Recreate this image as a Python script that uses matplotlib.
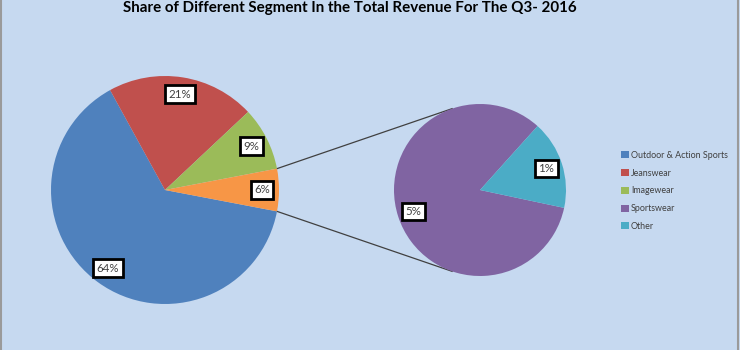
import numpy as np
import matplotlib
matplotlib.use("Agg")
import matplotlib.pyplot as plt
from matplotlib.lines import Line2D

# Revenue share by segment, Q3 2016
main_labels = ["Outdoor & Action Sports", "Jeanswear", "Imagewear"]
main_values = [64, 21, 9]
detail_labels = ["Sportswear", "Other"]
detail_values = [5, 1]

main_colors = ["#4F81BD", "#C0504D", "#9BBB59"]
combined_color = "#F79646"
detail_colors = ["#8064A2", "#4BACC6"]

title = "Share of Different Segment In the Total Revenue For The Q3- 2016"

W, H = 740, 350
fig = plt.figure(figsize=(W / 100, H / 100), dpi=100)
fig.patch.set_facecolor("#C6D9F0")
ax = fig.add_axes([0, 0, 1, 1])

font = "Lato"
box = dict(boxstyle="square,pad=0.3", fc="white", ec="black", lw=2)
txt = dict(fontsize=8.3, color="#404040", family=font)

# primary pie: main segments plus the combined remainder
combined = sum(detail_values)
primary = main_values + [combined]
total = sum(primary)
frac_comb = combined / total
c1, r1 = (165, 160), 114
half = 180 * frac_comb
w1, _ = ax.pie(primary, colors=main_colors + [combined_color], startangle=-half,
               counterclock=False, center=c1, radius=r1, frame=True,
               wedgeprops=dict(linewidth=0))
ang = -half
for v, w in zip(primary, w1):
    mid = np.deg2rad(ang - v / total * 180)
    ang -= v / total * 360
    x = c1[0] + 0.85 * r1 * np.cos(mid)
    y = c1[1] + 0.85 * r1 * np.sin(mid)
    ax.text(x, y, f"{v}%", ha="center", va="center", bbox=box, **txt)

# secondary pie breaking down the combined slice
c2, r2 = (480, 160), 86
dtotal = sum(detail_values)
start2 = -12
w2, _ = ax.pie(detail_values, colors=detail_colors, startangle=start2,
               counterclock=False, center=c2, radius=r2, frame=True,
               wedgeprops=dict(linewidth=0))
ang = start2
for v, w in zip(detail_values, w2):
    mid = np.deg2rad(ang - v / dtotal * 180)
    ang -= v / dtotal * 360
    x = c2[0] + 0.81 * r2 * np.cos(mid)
    y = c2[1] + 0.81 * r2 * np.sin(mid)
    ax.text(x, y, f"{v}%", ha="center", va="center", bbox=box, **txt)

ax.set_xlim(0, W)
ax.set_ylim(0, H)
ax.set_aspect("equal")
ax.set_axis_off()

# connector lines: from the combined slice edges, tangent to the second pie
for s in (1, -1):
    t = np.deg2rad(s * half)
    p = np.array([c1[0] + r1 * np.cos(t), c1[1] + r1 * np.sin(t)])
    d = p - np.array(c2)
    dist = np.hypot(*d)
    phi = np.arctan2(d[1], d[0])
    alpha = np.arccos(r2 / dist)
    tp = phi - s * alpha
    q = np.array([c2[0] + r2 * np.cos(tp), c2[1] + r2 * np.sin(tp)])
    ax.plot([p[0], q[0]], [p[1], q[1]], color="#404040", lw=0.9, zorder=0.5)

fig.text(0.473, 0.997, title, ha="center", va="top", fontsize=10.9,
         fontweight="bold", family=font, color="black")

handles = list(w1[:3]) + list(w2)
labels = main_labels + detail_labels
leg = ax.legend(handles, labels, loc="upper left", bbox_to_anchor=(621 / W, 1 - 151 / H),
                bbox_transform=fig.transFigure, frameon=False,
                handlelength=0.85, handleheight=0.85, handletextpad=0.25,
                labelspacing=0.98, borderpad=0, borderaxespad=0,
                prop=dict(family=font, size=6.4))
for t in leg.get_texts():
    t.set_color("#404040")

# side edges of the chart frame
for xe in (0.8, W - 2.2):
    fig.add_artist(Line2D([xe / W, xe / W], [0, 1], transform=fig.transFigure,
                          color="#9A9A9A", lw=1.5))

fig.savefig("out.png", dpi=100, facecolor=fig.get_facecolor())
